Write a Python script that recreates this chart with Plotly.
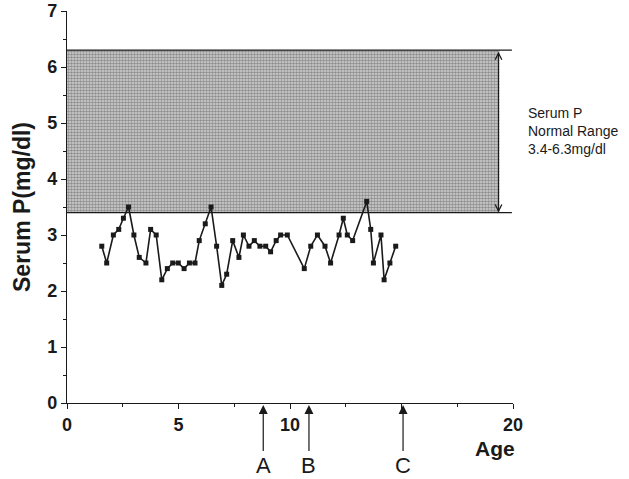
import plotly.graph_objects as go

ages = [1.56, 1.78, 2.08, 2.32, 2.53, 2.76, 3.0, 3.24, 3.54, 3.75, 4.0, 4.25, 4.5, 4.74, 4.99,
        5.25, 5.49, 5.74, 5.93, 6.2, 6.46, 6.71, 6.94, 7.16, 7.43, 7.71, 7.91, 8.16, 8.4, 8.65,
        8.91, 9.13, 9.38, 9.58, 9.88, 10.64, 10.93, 11.23, 11.57, 11.82, 12.2, 12.39, 12.57,
        12.81, 13.44, 13.62, 13.74, 14.08, 14.22, 14.48, 14.74]
serum_p = [2.8, 2.5, 3.0, 3.1, 3.3, 3.5, 3.0, 2.6, 2.5, 3.1, 3.0, 2.2, 2.4, 2.5, 2.5,
           2.4, 2.5, 2.5, 2.9, 3.2, 3.5, 2.8, 2.1, 2.3, 2.9, 2.6, 3.0, 2.8, 2.9, 2.8,
           2.8, 2.7, 2.9, 3.0, 3.0, 2.4, 2.8, 3.0, 2.8, 2.5, 3.0, 3.3, 3.0,
           2.9, 3.6, 3.1, 2.5, 3.0, 2.2, 2.5, 2.8]

normal_low = 3.4
normal_high = 6.3
band_x = [0, 19.4]
band_line_end = 19.95
range_arrow_x = 19.35

event_labels = ["A", "B", "C"]
event_ages = [8.8, 10.85, 15.07]

x_tickvals = [0, 5, 10, 15, 20]
x_ticktext = ["0", "5", "10", "", "20"]
y_tickvals = [0, 1, 2, 3, 4, 5, 6, 7]

FONT = "Arial, Liberation Sans, Helvetica, sans-serif"
INK = "#1a1a1a"

fig = go.Figure()

# normal range band (stippled)
fig.add_trace(go.Scatter(
    x=[band_x[0], band_x[1], band_x[1], band_x[0], band_x[0]],
    y=[normal_low, normal_low, normal_high, normal_high, normal_low],
    fill="toself", mode="none",
    fillcolor="#c8c8c8",
    fillpattern=dict(shape=".", size=3, solidity=0.55, fgcolor="#4a4a4a", bgcolor="#d2d2d2"),
    hoverinfo="skip", showlegend=False,
))
for yv in [normal_low, normal_high]:
    fig.add_trace(go.Scatter(
        x=[band_x[0], band_line_end], y=[yv, yv], mode="lines",
        line=dict(color=INK, width=1.2), hoverinfo="skip", showlegend=False, cliponaxis=False,
    ))

fig.add_trace(go.Scatter(
    x=ages, y=serum_p, mode="lines+markers",
    line=dict(color=INK, width=1.6),
    marker=dict(symbol="square", size=5, color=INK),
    showlegend=False,
))

annotations = []
# double arrow for normal range
annotations.append(dict(
    x=range_arrow_x, y=normal_low, ax=range_arrow_x, ay=normal_high,
    xref="x", yref="y", axref="x", ayref="y", text="",
    showarrow=True, arrowside="end+start", arrowhead=5, startarrowhead=5,
    arrowsize=1.3, startarrowsize=1.3, arrowwidth=1, arrowcolor=INK,
))
annotations.append(dict(
    x=1.0, y=4.86, xref="paper", yref="y", xanchor="left", yanchor="middle",
    xshift=13, align="left", showarrow=False,
    text="Serum P<br>Normal Range<br>3.4-6.3mg/dl",
    font=dict(family=FONT, size=14, color=INK),
))
for lab, a in zip(event_labels, event_ages):
    annotations.append(dict(
        x=a, y=0, xref="x", yref="y", text=lab, showarrow=True,
        ax=0, ay=62, arrowhead=2, arrowsize=1.5, arrowwidth=1.2, arrowcolor=INK,
        standoff=2, font=dict(family=FONT, size=22, color=INK),
    ))
annotations.append(dict(
    x=19.2, y=0, xref="x", yref="y", yshift=-45, text="<b>Age</b>", showarrow=False,
    xanchor="center", yanchor="middle", font=dict(family=FONT, size=21, color=INK),
))

fig.update_layout(
    width=629, height=479,
    margin=dict(l=67, r=116, t=11, b=76, autoexpand=False),
    paper_bgcolor="white", plot_bgcolor="white",
    font=dict(family=FONT, color=INK),
    annotations=annotations,
    xaxis=dict(
        range=[0, 20], tickvals=x_tickvals, ticktext=x_ticktext,
        showline=True, linecolor=INK, linewidth=1.2, showgrid=False, zeroline=False,
        ticks="outside", ticklen=5, tickwidth=1.2, tickcolor=INK,
        tickfont=dict(family=FONT, size=18, color=INK, weight="bold"),
        minor=dict(tickvals=[2.5, 7.5, 12.5, 17.5], ticks="outside", ticklen=3, tickcolor=INK, tickwidth=1),
    ),
    yaxis=dict(
        range=[0, 7], tickvals=y_tickvals,
        showline=True, linecolor=INK, linewidth=1.2, showgrid=False, zeroline=False,
        ticks="outside", ticklen=5, tickwidth=1.2, tickcolor=INK,
        tickfont=dict(family=FONT, size=18, color=INK, weight="bold"),
        minor=dict(dtick=0.5, ticks="outside", ticklen=3, tickcolor=INK, tickwidth=1),
        title=dict(text="<b>Serum P(mg/dl)</b>", font=dict(family=FONT, size=23, color=INK), standoff=10),
    ),
)

fig.write_html(
    "out.html",
    config={"displayModeBar": False},
    post_script="document.body.style.margin='0px';document.body.style.overflow='hidden';",
)
